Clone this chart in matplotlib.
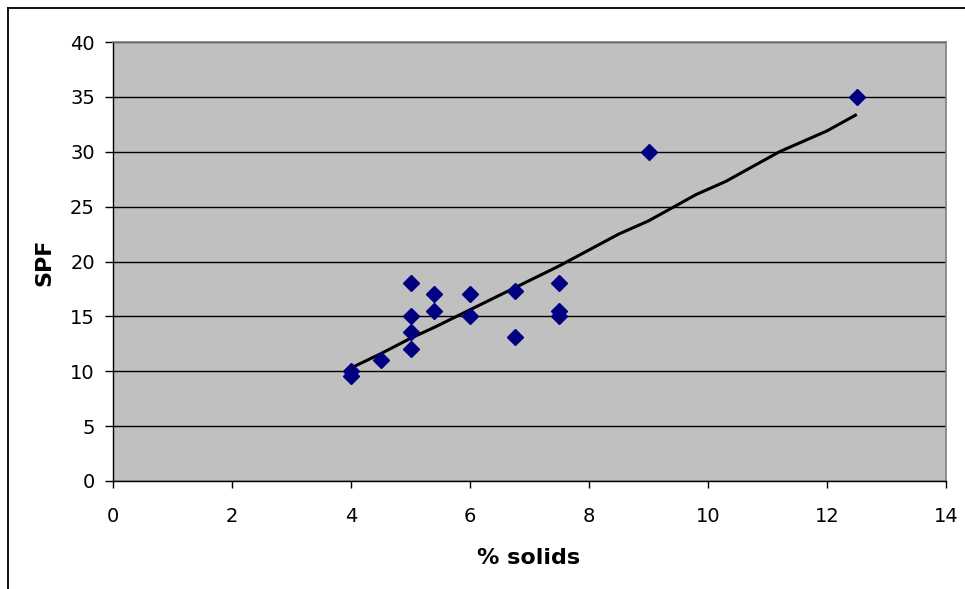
import matplotlib
matplotlib.use("Agg")
import matplotlib.pyplot as plt
from matplotlib.lines import Line2D

# Data
solids = [4.0, 4.0, 4.5, 5.0, 5.0, 5.0, 5.0, 5.4, 5.4, 6.0, 6.0, 6.75, 6.75, 7.5, 7.5, 7.5, 9.0, 12.5]
spf = [10.0, 9.6, 11.0, 18.0, 15.0, 13.6, 12.0, 17.0, 15.5, 17.0, 15.0, 17.3, 13.1, 18.0, 15.5, 15.0, 30.0, 35.0]

trend_x = [4.0, 4.5, 5.0, 5.4, 6.0, 6.75, 7.5, 8.5, 9.0, 9.8, 10.3, 11.2, 12.0, 12.5]
trend_y = [10.3, 11.6, 13.0, 14.0, 15.6, 17.6, 19.6, 22.5, 23.7, 26.1, 27.3, 30.0, 31.9, 33.4]

x_ticks = [0, 2, 4, 6, 8, 10, 12, 14]
y_ticks = [0, 5, 10, 15, 20, 25, 30, 35, 40]

W, H = 965, 589
fig = plt.figure(figsize=(W / 100, H / 100), dpi=100)
fig.patch.set_facecolor("white")

# outer chart border (top and left visible)
fig.add_artist(Line2D([8 / W, 8 / W], [-0.1, 1 - 8 / H], transform=fig.transFigure,
                      color="black", lw=1.3))
fig.add_artist(Line2D([8 / W, 1.1], [1 - 8 / H, 1 - 8 / H], transform=fig.transFigure,
                      color="black", lw=1.3))

ax = fig.add_axes([113 / W, 1 - 481 / H, (946 - 113) / W, (481 - 42) / H])
ax.set_facecolor("#C0C0C0")

ax.set_xlim(0, 14)
ax.set_ylim(0, 40)
ax.set_xticks(x_ticks)
ax.set_yticks(y_ticks)
ax.set_xticklabels([str(t) for t in x_ticks])
ax.set_yticklabels([str(t) for t in y_ticks])

ax.yaxis.grid(True, color="black", lw=1.0)
ax.set_axisbelow(True)

for s in ["top", "right"]:
    ax.spines[s].set_color("#808080")
    ax.spines[s].set_linewidth(1.2)
for s in ["left", "bottom"]:
    ax.spines[s].set_color("black")
    ax.spines[s].set_linewidth(1.0)

ax.tick_params(axis="x", direction="out", length=5, width=1, pad=14, labelsize=14, colors="black")
ax.tick_params(axis="y", direction="out", length=6, width=1, pad=7, labelsize=14, colors="black")

ax.plot(trend_x, trend_y, color="black", lw=2.2, zorder=3, solid_capstyle="butt")
ax.plot(solids, spf, linestyle="none", marker="D", markersize=8.5,
        markerfacecolor="#000080", markeredgecolor="#000080", zorder=4)

fig.text(529 / W, 1 - 558 / H, "% solids", ha="center", va="center",
         fontsize=16, fontweight="bold")
fig.text(44 / W, 1 - 262 / H, "SPF", ha="center", va="center", rotation=90,
         fontsize=16, fontweight="bold")

fig.savefig("out.png", dpi=100)
